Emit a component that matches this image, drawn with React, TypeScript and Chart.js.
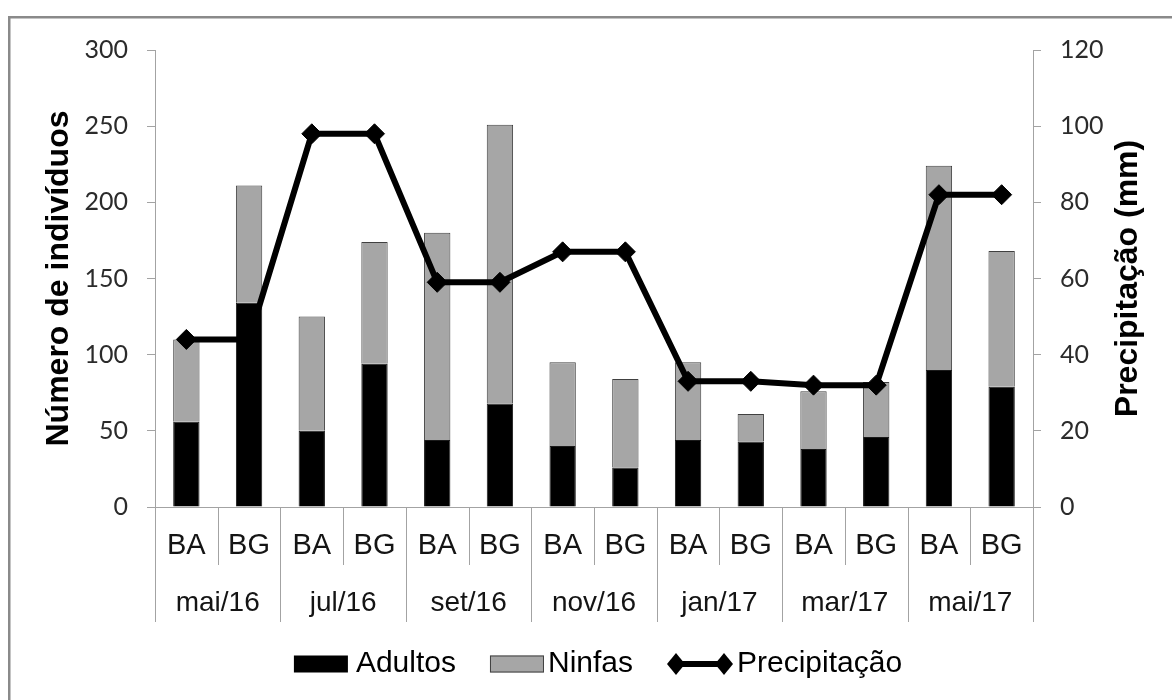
import React, { useEffect, useRef } from 'react';
import { Chart, registerables } from 'chart.js';

Chart.register(...registerables);

// Sampling months and the two sites sampled in each month
const months = ['mai/16', 'jul/16', 'set/16', 'nov/16', 'jan/17', 'mar/17', 'mai/17'];
const sites = ['BA', 'BG'];

// Number of individuals per sample (stacked bars, left axis)
const adultos = [56, 134, 50, 94, 44, 68, 40, 26, 44, 43, 38, 46, 90, 79];
const ninfas = [54, 77, 75, 80, 136, 183, 55, 58, 51, 18, 38, 36, 134, 89];

// Rainfall in mm (line, right axis)
const precipitacao = [44, 44, 98, 98, 59, 59, 67, 67, 33, 33, 32, 32, 82, 82];

// Axis ranges and tick steps
const countAxis = { min: 0, max: 300, step: 50 };
const rainAxis = { min: 0, max: 120, step: 20 };

const seriesNames = ['Adultos', 'Ninfas', 'Precipitação'];
const axisTitles = ['Número de indivíduos', 'Precipitação (mm)'];

const categories = months.flatMap((m) => sites.map((s) => `${s} ${m}`));

const AXIS_GRAY = '#a3a3a3';
const BAR_GRAY = '#a6a6a6';
const EDGE_GRAY = '#404040';
const SANS = '"Liberation Sans", Arial, sans-serif';

// Two-level category table under the x axis: site row + month row with separators
const categoryTable = {
  id: 'categoryTable',
  afterDraw(chart: any) {
    const { ctx, chartArea, scales } = chart;
    const x = scales.x;
    const n = categories.length;
    const step = (chartArea.right - chartArea.left) / n;
    const bottom = chartArea.bottom;
    ctx.save();
    ctx.strokeStyle = AXIS_GRAY;
    ctx.lineWidth = 1;
    for (let k = 0; k <= n; k++) {
      const px = Math.round(chartArea.left + k * step) + 0.5;
      const depth = k % sites.length === 0 ? 115 : 58;
      ctx.beginPath();
      ctx.moveTo(px, bottom);
      ctx.lineTo(px, bottom + depth);
      ctx.stroke();
    }
    ctx.fillStyle = '#141414';
    ctx.textAlign = 'center';
    ctx.textBaseline = 'middle';
    ctx.font = `29px ${SANS}`;
    categories.forEach((_, i) => {
      ctx.fillText(sites[i % sites.length], x.getPixelForValue(i), bottom + 39);
    });
    ctx.font = `28px ${SANS}`;
    months.forEach((m, j) => {
      const a = x.getPixelForValue(j * sites.length);
      const b = x.getPixelForValue(j * sites.length + sites.length - 1);
      ctx.fillText(m, (a + b) / 2, bottom + 96);
    });
    ctx.restore();
  },
};

// Rotated axis titles, both reading bottom-to-top
const axisTitlePlugin = {
  id: 'axisTitlePlugin',
  afterDraw(chart: any) {
    const { ctx, chartArea } = chart;
    const cy = (chartArea.top + chartArea.bottom) / 2;
    ctx.save();
    ctx.fillStyle = '#000';
    ctx.font = `bold 32px ${SANS}`;
    ctx.textAlign = 'center';
    ctx.textBaseline = 'middle';
    const put = (text: string, cx: number) => {
      ctx.save();
      ctx.translate(cx, cy);
      ctx.rotate(-Math.PI / 2);
      ctx.fillText(text, 0, 0);
      ctx.restore();
    };
    put(axisTitles[0], chartArea.left - 96);
    put(axisTitles[1], chartArea.right + 95);
    ctx.restore();
  },
};

function diamond(ctx: CanvasRenderingContext2D, cx: number, cy: number, rx: number, ry: number) {
  ctx.beginPath();
  ctx.moveTo(cx, cy - ry);
  ctx.lineTo(cx + rx, cy);
  ctx.lineTo(cx, cy + ry);
  ctx.lineTo(cx - rx, cy);
  ctx.closePath();
  ctx.fill();
}

// Legend row at the bottom, centred below the plot
const legendRow = {
  id: 'legendRow',
  afterDraw(chart: any) {
    const { ctx, chartArea } = chart;
    const y = chartArea.bottom + 157;
    ctx.save();
    ctx.font = `30px ${SANS}`;
    ctx.textBaseline = 'middle';
    ctx.textAlign = 'left';
    const symW = [54, 54, 66];
    const gaps = [8, 4, 4];
    const itemGap = 34;
    const widths = seriesNames.map((s, i) => symW[i] + gaps[i] + ctx.measureText(s).width);
    const total = widths.reduce((a, b) => a + b, 0) + itemGap * (seriesNames.length - 1);
    let x = (chartArea.left + chartArea.right) / 2 + 4 - total / 2;
    seriesNames.forEach((name, i) => {
      if (i === 0) {
        ctx.fillStyle = '#000';
        ctx.fillRect(x, y - 8.5, symW[i], 17);
      } else if (i === 1) {
        ctx.fillStyle = BAR_GRAY;
        ctx.fillRect(x, y - 8.5, symW[i], 17);
        ctx.strokeStyle = EDGE_GRAY;
        ctx.lineWidth = 1;
        ctx.strokeRect(x + 0.5, y - 8, symW[i] - 1, 16);
      } else {
        ctx.strokeStyle = '#000';
        ctx.fillStyle = '#000';
        ctx.lineWidth = 6;
        ctx.beginPath();
        ctx.moveTo(x + 9, y);
        ctx.lineTo(x + symW[i] - 9, y);
        ctx.stroke();
        diamond(ctx, x + 9, y, 9, 11);
        diamond(ctx, x + symW[i] - 9, y, 9, 11);
      }
      ctx.fillStyle = '#000';
      ctx.fillText(name, x + symW[i] + gaps[i], y);
      x += widths[i] + itemGap;
    });
    ctx.restore();
  },
};

// Grey frame along the top and left of the figure
const framePlugin = {
  id: 'framePlugin',
  beforeDraw(chart: any) {
    const { ctx, width, height } = chart;
    ctx.save();
    ctx.fillStyle = '#fff';
    ctx.fillRect(0, 0, width, height);
    ctx.strokeStyle = '#8a8a8a';
    ctx.lineWidth = 2.5;
    ctx.beginPath();
    ctx.moveTo(9.25, height + 2);
    ctx.lineTo(9.25, 17.25);
    ctx.lineTo(width + 2, 17.25);
    ctx.stroke();
    ctx.restore();
  },
};

export default function App() {
  const canvasRef = useRef<HTMLCanvasElement | null>(null);

  useEffect(() => {
    const canvas = canvasRef.current;
    if (!canvas) return;
    const tickFont = { family: 'Lato, "Open Sans", sans-serif', size: 25 };
    const chart = new Chart(canvas, {
      type: 'bar',
      data: {
        labels: categories,
        datasets: [
          {
            type: 'line',
            label: seriesNames[2],
            data: precipitacao,
            yAxisID: 'y1',
            borderColor: '#000',
            backgroundColor: '#000',
            borderWidth: 6,
            pointStyle: 'rectRot',
            pointRadius: 10,
            pointBorderWidth: 1,
            pointBackgroundColor: '#000',
            pointBorderColor: '#000',
            tension: 0,
            order: 0,
            clip: false,
          } as any,
          {
            label: seriesNames[0],
            data: adultos,
            yAxisID: 'y',
            backgroundColor: '#000',
            borderColor: '#1a1a1a',
            borderWidth: 1,
            stack: 'n',
            order: 1,
          },
          {
            label: seriesNames[1],
            data: ninfas,
            yAxisID: 'y',
            backgroundColor: BAR_GRAY,
            borderColor: EDGE_GRAY,
            borderWidth: 1,
            stack: 'n',
            order: 1,
          },
        ],
      },
      options: {
        responsive: false,
        animation: false,
        devicePixelRatio: 1,
        layout: { padding: { top: 50, left: 0, right: 0, bottom: 78 } },
        datasets: { bar: { barPercentage: 0.42, categoryPercentage: 1 } },
        plugins: {
          legend: { display: false },
          tooltip: { enabled: false },
          title: { display: false },
        },
        scales: {
          x: {
            type: 'category',
            offset: true,
            stacked: true,
            grid: { display: false },
            ticks: { display: false },
            border: { display: true, color: AXIS_GRAY, width: 1 },
            afterFit: (scale: any) => {
              scale.height = 115;
            },
          },
          y: {
            position: 'left',
            stacked: true,
            min: countAxis.min,
            max: countAxis.max,
            ticks: { stepSize: countAxis.step, font: tickFont, color: '#2b2b2b', padding: 19 },
            grid: { drawOnChartArea: false, drawTicks: true, tickLength: 8, color: AXIS_GRAY },
            border: { display: true, color: AXIS_GRAY, width: 1 },
            afterFit: (scale: any) => {
              scale.width = 155;
            },
          },
          y1: {
            position: 'right',
            min: rainAxis.min,
            max: rainAxis.max,
            ticks: { stepSize: rainAxis.step, font: tickFont, color: '#2b2b2b', padding: 19 },
            grid: { drawOnChartArea: false, drawTicks: true, tickLength: 8, color: AXIS_GRAY },
            border: { display: true, color: AXIS_GRAY, width: 1 },
            afterFit: (scale: any) => {
              scale.width = 139;
            },
          },
        },
      },
      plugins: [framePlugin, categoryTable, axisTitlePlugin, legendRow],
    });
    return () => chart.destroy();
  }, []);

  return (
    <div style={{ position: 'absolute', left: 0, top: 0, width: 1172, height: 700, background: '#fff' }}>
      <canvas ref={canvasRef} width={1172} height={700} style={{ display: 'block' }} />
    </div>
  );
}
